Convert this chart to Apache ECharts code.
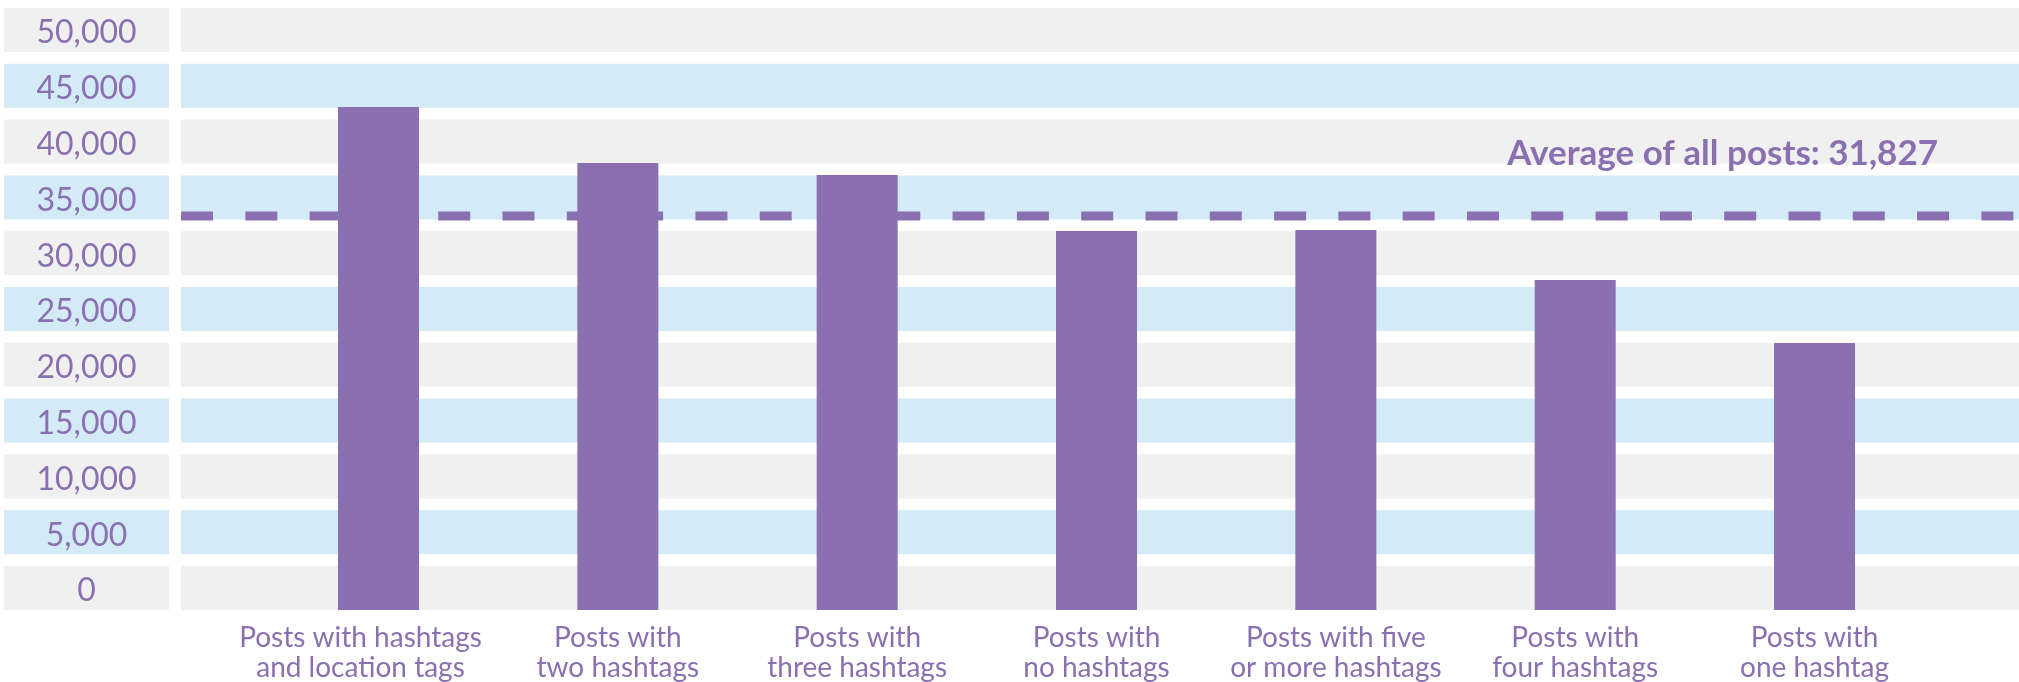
<!DOCTYPE html>
<html>
<head>
<meta charset="utf-8">
<script src="https://cdn.jsdelivr.net/npm/echarts@6/dist/echarts.min.js"></script>
<style>
  html, body { margin: 0; padding: 0; background: #ffffff; }
  #chart { width: 2019px; height: 682px; }
</style>
</head>
<body>
<div id="chart"></div>
<script>
// ---- data ----
const categories = [
  'Posts with hashtags\nand location tags',
  'Posts with\ntwo hashtags',
  'Posts with\nthree hashtags',
  'Posts with\nno hashtags',
  'Posts with five\nor more hashtags',
  'Posts with\nfour hashtags',
  'Posts with\none hashtag'
];
const values = [43100, 38080, 37010, 31990, 32080, 27600, 21950];
const tickValues = [0, 5000, 10000, 15000, 20000, 25000, 30000, 35000, 40000, 45000, 50000];
const averageValue = 33330;
const averageLabel = 'Average of all posts: 31,827';

// ---- style / layout ----
const PURPLE = '#8a70b0';
const GRAY = '#f0f0f0';
const BLUE = '#d3eaf7';
const FONT = 'Lato, "Open Sans", sans-serif';
const Y_MIN = -1971;
const Y_MAX = 51971;
const TOP = 8, BOTTOM = 72;

const chart = echarts.init(document.getElementById('chart'), null, { renderer: 'canvas' });

const yFormatter = v => tickValues.indexOf(v) >= 0 ? '{t|' + v.toLocaleString('en-US') + '}' : '';

// first category label sits a little left of its bar in the reference
const categoryData = categories.map((c, i) => i === 0
  ? { value: c, textStyle: { padding: [0, 36, 0, 0] } }
  : c);

const option = {
  animation: false,
  backgroundColor: '#ffffff',
  title: {
    text: averageLabel,
    right: 81,
    top: 136,
    padding: 0,
    textStyle: { fontFamily: FONT, fontWeight: 'bold', fontSize: 35, color: PURPLE }
  },
  grid: [
    { left: 181, right: 0, top: TOP, bottom: BOTTOM, outerBoundsMode: 'none', containLabel: false },
    { left: 258.83, right: 84.8, top: TOP, bottom: BOTTOM, outerBoundsMode: 'none', containLabel: false }
  ],
  xAxis: [
    { gridIndex: 0, type: 'value', min: 0, max: 1, show: false },
    {
      gridIndex: 1, type: 'category', data: categoryData,
      axisLine: { show: false }, axisTick: { show: false },
      axisLabel: {
        interval: 0, margin: 13, color: PURPLE, fontFamily: FONT,
        fontSize: 28, lineHeight: 30
      }
    }
  ],
  yAxis: [
    { gridIndex: 0, type: 'value', min: Y_MIN, max: Y_MAX, show: false, splitNumber: 10 },
    {
      gridIndex: 1, type: 'value', min: Y_MIN, max: Y_MAX, splitNumber: 10,
      startValue: Y_MIN,
      axisLine: { show: false }, axisTick: { show: false }, splitLine: { show: false },
      axisLabel: {
        formatter: yFormatter, align: 'center', margin: 172.3,
        color: PURPLE, fontFamily: FONT, fontSize: 32,
        rich: { t: { color: PURPLE, fontFamily: FONT, fontSize: 32, padding: [6, 0, 0, 0] } },
        showMinLabel: false, showMaxLabel: false
      }
    }
  ],
  series: [
    {
      type: 'custom',
      xAxisIndex: 0, yAxisIndex: 0,
      z: 0, silent: true, clip: false,
      data: tickValues.map(v => [0, v]),
      encode: { x: 0, y: 1 },
      renderItem: function (params, api) {
        const cy = api.coord([0, api.value(1)])[1];
        const cs = params.coordSys;
        const fill = params.dataIndex % 2 ? BLUE : GRAY;
        return {
          type: 'group',
          children: [
            { type: 'rect', shape: { x: 4, y: cy - 22, width: 165, height: 44 }, style: { fill: fill } },
            { type: 'rect', shape: { x: cs.x, y: cy - 22, width: cs.width, height: 44 }, style: { fill: fill } }
          ]
        };
      }
    },
    {
      type: 'line',
      xAxisIndex: 0, yAxisIndex: 0,
      z: 1, silent: true, symbol: 'none',
      data: [[0, averageValue], [1, averageValue]],
      lineStyle: { color: PURPLE, width: 9, type: [32, 32.3], cap: 'butt' }
    },
    {
      type: 'bar',
      xAxisIndex: 1, yAxisIndex: 1,
      z: 2, barWidth: 81,
      data: values,
      itemStyle: { color: PURPLE }
    }
  ]
};

chart.setOption(option);
</script>
</body>
</html>
